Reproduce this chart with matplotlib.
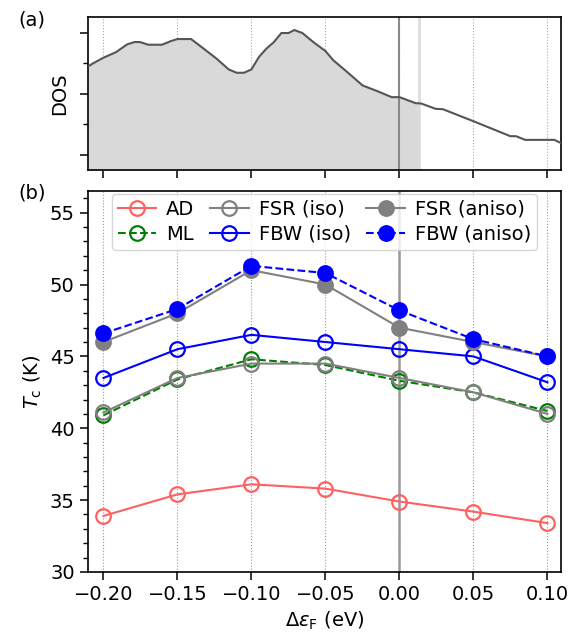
import numpy as np
import matplotlib
matplotlib.use("Agg")
import matplotlib.pyplot as plt
from matplotlib.ticker import MultipleLocator

# ---- DOS curve (panel a), arbitrary units
dos_e = [-0.2104, -0.2067, -0.200, -0.1914, -0.184, -0.179, -0.1753, -0.1697,
         -0.1605, -0.1544, -0.150, -0.1408, -0.1322, -0.1235, -0.1154, -0.110,
         -0.105, -0.100, -0.095, -0.090, -0.0848, -0.0798, -0.0749, -0.071,
         -0.0656, -0.0582, -0.050, -0.0446, -0.036, -0.0249, -0.015, -0.0052,
         0.000, 0.011, 0.0146, 0.0245, 0.0294, 0.050, 0.075, 0.0788, 0.085,
         0.1047, 0.109]
dos_v = [2.452, 2.507, 2.595, 2.688, 2.814, 2.852, 2.852, 2.808,
         2.808, 2.868, 2.901, 2.901, 2.742, 2.578, 2.403, 2.348,
         2.348, 2.403, 2.605, 2.742, 2.852, 3.000, 3.000, 3.049,
         3.000, 2.852, 2.704, 2.551, 2.375, 2.140, 2.047, 1.948,
         1.948, 1.849, 1.844, 1.756, 1.750, 1.553, 1.307, 1.307, 1.247,
         1.247, 1.197]
fill_edge = 0.013

# ---- Tc vs shift of Fermi level (panel b)
shift = [-0.20, -0.15, -0.10, -0.05, 0.00, 0.05, 0.10]
tc_ad = [33.9, 35.4, 36.1, 35.8, 34.9, 34.2, 33.4]
tc_ml = [40.9, 43.4, 44.8, 44.4, 43.3, 42.5, 41.2]
tc_fsr_iso = [41.1, 43.5, 44.5, 44.5, 43.5, 42.5, 41.0]
tc_fbw_iso = [43.5, 45.5, 46.5, 46.0, 45.5, 45.0, 43.2]
tc_fsr_aniso = [46.0, 48.0, 51.0, 50.0, 47.0, 46.0, 45.0]
tc_fbw_aniso = [46.6, 48.3, 51.3, 50.8, 48.2, 46.2, 45.0]

plt.rcParams['font.size'] = 14
plt.rcParams['axes.linewidth'] = 1.2
plt.rcParams['axes.unicode_minus'] = True

fig = plt.figure(figsize=(5.71, 6.39), dpi=100)
ax1 = fig.add_axes([0.154, 0.734, 0.828, 0.2394])
ax2 = fig.add_axes([0.154, 0.1049, 0.828, 0.596])

xlim = (-0.2105, 0.109)

# panel (a)
dos_e = np.array(dos_e)
dos_v = np.array(dos_v)
mask = dos_e <= fill_edge
fe = np.append(dos_e[mask], fill_edge)
fv = np.append(dos_v[mask], np.interp(fill_edge, dos_e, dos_v))
ax1.fill_between(fe, 0, fv, color='#d9d9d9', lw=0)
ax1.axvline(fill_edge, color='#dddddd', lw=2, zorder=1)
ax1.plot(dos_e, dos_v, color='#555555', lw=1.5, zorder=3)
ax1.axvline(0, color='#888888', lw=1.5, zorder=2)
ax1.set_xlim(*xlim)
ax1.set_ylim(0.753, 3.263)
ax1.set_xticks(shift)
ax1.set_xticklabels([])
ax1.yaxis.set_major_locator(MultipleLocator(1))
ax1.yaxis.set_minor_locator(MultipleLocator(0.5))
ax1.set_yticklabels([])
ax1.tick_params(which='major', length=6, width=1.1)
ax1.tick_params(which='minor', length=3.5, width=1.0)
ax1.set_ylabel('DOS')
ax1.grid(axis='x', ls=':', color='#aaaaaa', lw=0.8)
ax1.set_axisbelow(True)

# panel (b)
ax2.axvline(0, color='#999999', lw=1.8, zorder=0.3)
ax2.grid(axis='x', ls=':', color='#999999', lw=0.8)
ax2.set_axisbelow(True)
ms = 10.5
mew = 1.6
lw = 1.5
ax2.plot(shift, tc_ad, '-o', color='#ff6060', mfc='none', ms=ms, mew=mew, lw=lw, label='AD')
ax2.plot(shift, tc_ml, '--o', color='green', mfc='none', ms=ms, mew=mew, lw=lw, label='ML')
ax2.plot(shift, tc_fsr_iso, '-o', color='gray', mfc='none', ms=ms, mew=mew, lw=lw, label='FSR (iso)')
ax2.plot(shift, tc_fbw_iso, '-o', color='blue', mfc='none', ms=ms, mew=mew, lw=lw, label='FBW (iso)')
ax2.plot(shift, tc_fsr_aniso, '-o', color='gray', ms=ms, mew=mew, lw=lw, label='FSR (aniso)')
ax2.plot(shift, tc_fbw_aniso, '--o', color='blue', ms=ms, mew=mew, lw=lw, label='FBW (aniso)')
ax2.set_xlim(*xlim)
ax2.set_ylim(30, 56.5)
ax2.set_xticks(shift)
ax2.yaxis.set_major_locator(MultipleLocator(5))
ax2.yaxis.set_minor_locator(MultipleLocator(1))
ax2.tick_params(which='major', length=6, width=1.1)
ax2.tick_params(which='minor', length=3.5, width=1.0)
ax2.set_xlabel(r'$\Delta\varepsilon_{\mathrm{F}}$ (eV)')
ax2.set_ylabel(r'$T_{\mathrm{c}}$ (K)')
ax2.legend(ncol=3, loc='upper center', fontsize=14, handlelength=2.0,
           columnspacing=0.8, handletextpad=0.5, borderpad=0.3,
           labelspacing=0.3, borderaxespad=0.15)

fig.text(0.032, 0.969, '(a)', fontsize=14, va='center')
fig.text(0.032, 0.698, '(b)', fontsize=14, va='center')

fig.savefig('out.png', dpi=100)
